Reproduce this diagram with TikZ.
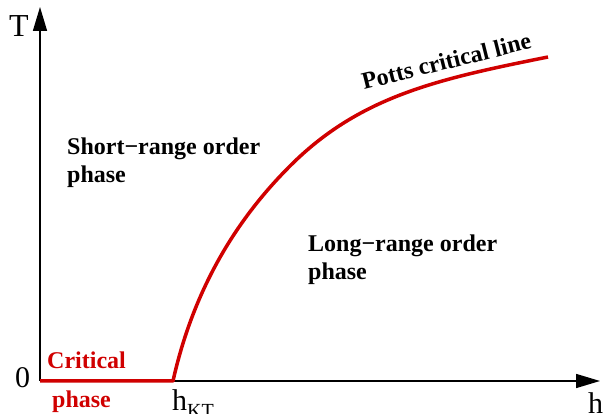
\documentclass[tikz,border=0pt]{standalone}
\usepackage{fontspec}
\setmainfont{Liberation Serif}
\usetikzlibrary{arrows.meta}
\definecolor{critred}{RGB}{208,0,0}

\begin{document}
\begin{tikzpicture}[x=1pt,y=-1pt]
    \tikzstyle{axis}=[line width=1.6pt, -{Triangle[length=24pt,width=14pt]}]
    \tikzstyle{critline}=[draw=critred, line width=3.5pt, line join=round]
    \tikzstyle{phaselabel}=[anchor=north west, inner sep=0pt, align=left, font=\bfseries\fontsize{24}{28}\selectfont]
    \tikzstyle{axlabel}=[anchor=base west, inner sep=0pt, font=\fontsize{30}{30}\selectfont]

    \useasboundingbox (0,0) rectangle (606,414);

    \coordinate (O) at (40,381);
    \coordinate (Tend) at (40,7);
    \coordinate (hend) at (600,381);
    \coordinate (hKT) at (173,381);
    \coordinate (bend) at (290,166);
    \coordinate (pottsend) at (548,57);

    % axes
    \draw[axis] (O) -- (Tend);
    \draw[axis] (O) -- (hend);
    \node[axlabel, font=\fontsize{32}{32}\selectfont] (Tlab) at (9,37) {T};
    \node[axlabel] (zerolab) at (15,388) {0};
    \node[axlabel] (hlab) at (588,414) {h};
    \node[axlabel] (hKTlab) at (172,411) {h\raisebox{-6pt}{\fontsize{20}{20}\selectfont KT}};

    % critical line
    \draw[critline] (O) -- (hKT) .. controls (197,273) and (250,206) .. (bend)
      .. controls (360,96) and (438,79) .. (pottsend);

    % phases
    \node[phaselabel] (short) at (67,138) {Short−range order\\phase};
    \node[phaselabel] (long) at (308,235) {Long−range order\\phase};
    \node[anchor=base west, inner sep=0pt, rotate=14, font=\bfseries\fontsize{24}{24}\selectfont] (potts) at (364,90) {Potts critical line};
    \node[anchor=base west, inner sep=0pt, text=critred, font=\bfseries\fontsize{24}{24}\selectfont] (crit) at (47,369) {Critical};
    \node[anchor=base west, inner sep=0pt, text=critred, font=\bfseries\fontsize{24}{24}\selectfont] (critph) at (52,408) {phase};
\end{tikzpicture}
\end{document}
